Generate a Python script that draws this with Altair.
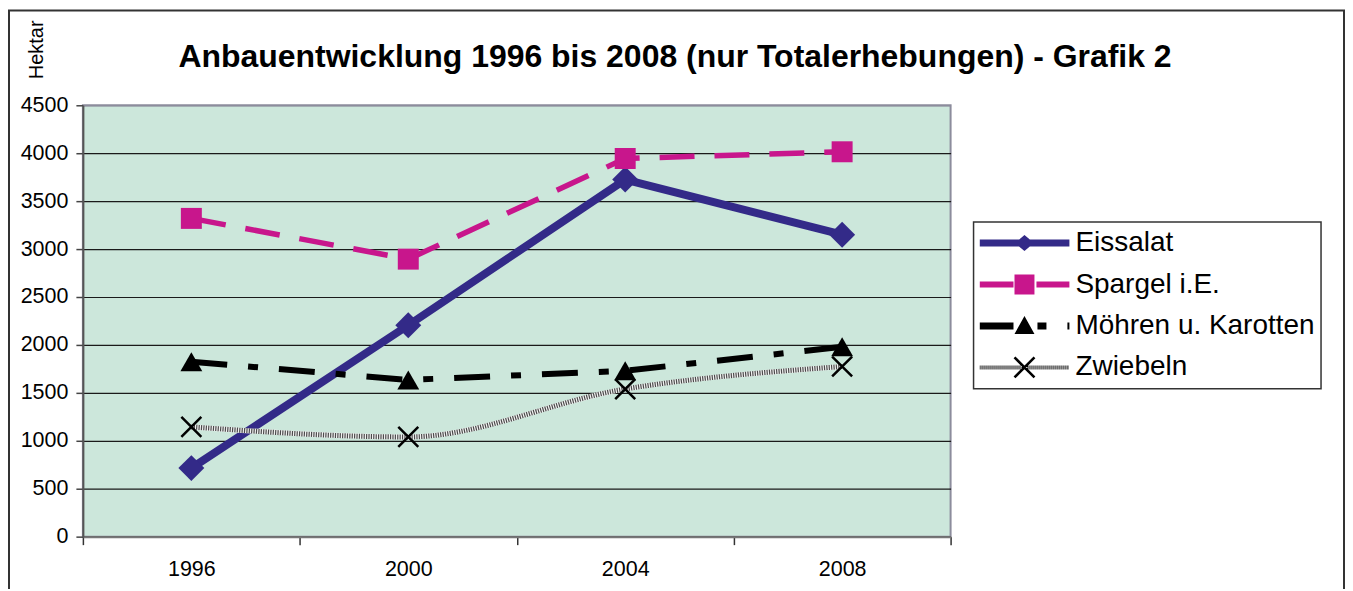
import altair as alt
import pandas as pd

# ---------------- data ----------------
years = ["1996", "2000", "2004", "2008"]
series_names = ["Eissalat", "Spargel i.E.", "Möhren u. Karotten", "Zwiebeln"]
eissalat = [715, 2205, 3725, 3150]
spargel = [3320, 2895, 3945, 4015]
moehren = [1825, 1635, 1730, 1980]
zwiebeln = [1145, 1040, 1540, 1775]
y_ticks = [0, 500, 1000, 1500, 2000, 2500, 3000, 3500, 4000, 4500]

title_text = "Anbauentwicklung 1996 bis 2008 (nur Totalerhebungen) - Grafik 2"
y_title = "Hektar"

rows = []
for name, vals in zip(series_names, [eissalat, spargel, moehren, zwiebeln]):
    for yr, v in zip(years, vals):
        rows.append({"year": yr, "series": name, "value": v})
df = pd.DataFrame(rows)

# ---------------- styles ----------------
NAVY = "#332A88"
MAGENTA = "#C8168C"
FONT = "Liberation Sans"

# legend symbols (custom paths, unit = 45px)
U = 45.0


def poly(pts):
    area = 0.0
    for i in range(len(pts)):
        x0, y0 = pts[i]
        x1, y1 = pts[(i + 1) % len(pts)]
        area += x0 * y1 - x1 * y0
    if area < 0:
        pts = pts[::-1]
    s = "M" + "L".join(f"{x / U:.4f},{y / U:.4f}" for x, y in pts) + "Z"
    return s


def rect(x0, y0, x1, y1):
    return poly([(x0, y0), (x1, y0), (x1, y1), (x0, y1)])


def thick(p, q, w):
    import math
    dx, dy = q[0] - p[0], q[1] - p[1]
    L = math.hypot(dx, dy)
    nx, ny = -dy / L * w, dx / L * w
    return poly([(p[0] + nx, p[1] + ny), (q[0] + nx, q[1] + ny),
                 (q[0] - nx, q[1] - ny), (p[0] - nx, p[1] - ny)])


sym_eis = rect(-45, -3.5, 45, 3.5) + poly([(-9.5, 0), (0, -8), (9.5, 0), (0, 8)])
sym_spa = rect(-45, -3, -11, 3) + rect(-10, -10, 10, 10) + rect(12, -3, 45, 3)
sym_moe = (rect(-45, -3.5, -11, 3.5) + poly([(0, -10), (10, 8), (-10, 8)])
           + rect(13, -3.5, 22, 3.5) + rect(43, -3.5, 45, 3.5))
sym_zwi = "".join(rect(-45 + 2 * i, -2, -44 + 2 * i, 2) for i in range(45))
sym_zwi += thick((-10, -10), (10, 10), 1.3) + thick((-10, 10), (10, -10), 1.3)

legend_paths = [sym_eis, sym_spa, sym_moe, sym_zwi]
legend_colors = [NAVY, MAGENTA, "#000000", "#000000"]

# ---------------- encodings ----------------
x_enc = alt.X(
    "year:O",
    scale=alt.Scale(type="band", paddingInner=0, paddingOuter=0, domain=years),
    axis=alt.Axis(
        title=None, labelAngle=0, tickBand="extent", grid=False,
        labelFontSize=21.5, labelFont=FONT, labelColor="black", labelPadding=14,
        tickSize=8, tickColor="#333", tickWidth=1.5, domainColor="#777", domainWidth=2,
    ),
)
y_enc = alt.Y(
    "value:Q",
    scale=alt.Scale(domain=[0, 4500], nice=False, zero=True),
    axis=alt.Axis(
        values=y_ticks, format="d", title=y_title, titleAngle=270, titleX=-46, titleY=-56,
        titleAlign="center", titleBaseline="middle", titleFontSize=20,
        titleFontWeight="normal", titleFont=FONT, titleColor="black",
        labelFontSize=21.5, labelFont=FONT, labelColor="black", labelPadding=8,
        tickSize=7, tickColor="#444", tickWidth=1.5, domainColor="#555", domainWidth=2,
        grid=True, gridWidth=1.2,
        gridColor={"condition": {"test": "datum.value === 4500", "value": "#8c8c9c"},
                   "value": "#1a1a1a"},
    ),
)

base = alt.Chart(df)


def sel(name):
    return base.transform_filter(alt.datum.series == name)


frame = alt.Chart(alt.Data(values=[{}])).mark_rect(
    fillOpacity=0, stroke="#333", strokeWidth=2
).encode(x=alt.value(-74), x2=alt.value(1263), y=alt.value(-95), y2=alt.value(520))

line_eis = sel("Eissalat").mark_line(
    color=NAVY, strokeWidth=8, strokeJoin="round", strokeCap="round"
).encode(x=x_enc, y=y_enc)
line_spa = sel("Spargel i.E.").mark_line(
    color=MAGENTA, strokeWidth=5.5, strokeDash=[35, 20]
).encode(x=x_enc, y=y_enc)
line_moe = sel("Möhren u. Karotten").mark_line(
    color="black", strokeWidth=6, strokeDash=[36, 21, 10, 21]
).encode(x=x_enc, y=y_enc)
line_zwi_a = sel("Zwiebeln").mark_line(
    color="#f2f2f2", strokeWidth=5, interpolate="monotone"
).encode(x=x_enc, y=y_enc)
line_zwi_b = sel("Zwiebeln").mark_line(
    color="#4a4a4a", strokeWidth=5, strokeDash=[1.2, 1.2], interpolate="monotone"
).encode(x=x_enc, y=y_enc)

pt_eis = sel("Eissalat").mark_point(
    shape="diamond", filled=True, size=676, color=NAVY, opacity=1
).encode(x=x_enc, y=y_enc)
pt_spa = sel("Spargel i.E.").mark_point(
    shape="square", filled=True, size=441, color=MAGENTA, opacity=1
).encode(x=x_enc, y=y_enc)
pt_moe = sel("Möhren u. Karotten").mark_point(
    shape="triangle-up", filled=True, size=480, color="black", opacity=1
).encode(x=x_enc, y=y_enc)
pt_zwi = sel("Zwiebeln").mark_point(
    shape="M-1,-1L1,1M-1,1L1,-1", filled=False, size=400, color="black",
    strokeWidth=2.5, opacity=1
).encode(x=x_enc, y=y_enc)

leg = alt.Legend(
    title=None, orient="none", legendX=892, legendY=117,
    symbolSize=8100, clipHeight=30, rowPadding=11.5,
    labelFontSize=28, labelFont=FONT, labelColor="black", labelOffset=6,
    labelLimit=400, padding=6, strokeColor="#333", fillColor="white",
    symbolStrokeWidth=0, symbolOpacity=1,
)
legend_layer = base.transform_filter("false").mark_point(filled=True, opacity=1).encode(
    x=x_enc, y=y_enc,
    color=alt.Color("series:N", scale=alt.Scale(domain=series_names, range=legend_colors), legend=leg),
    shape=alt.Shape("series:N", scale=alt.Scale(domain=series_names, range=legend_paths), legend=leg),
)

chart = alt.layer(
    frame, line_eis, line_spa, line_moe, line_zwi_a, line_zwi_b,
    pt_eis, pt_spa, pt_moe, pt_zwi, legend_layer,
).properties(
    width=869, height=432,
    autosize=alt.AutoSizeParams(type="none"),
    padding={"left": 75, "top": 97, "right": 395, "bottom": 52},
    background="white",
    title=alt.Title(
        title_text, font=FONT, fontSize=32, fontWeight="bold", color="black",
        anchor="middle", frame="group", dx=158.5, dy=100, offset=10, baseline="alphabetic",
    ),
).configure_view(
    fill="#CCE7DB", stroke="#8c8c9c", strokeWidth=2
).configure_legend(strokeWidth=1.5)

chart.save("out.html", embed_options={"renderer": "svg", "actions": False})
